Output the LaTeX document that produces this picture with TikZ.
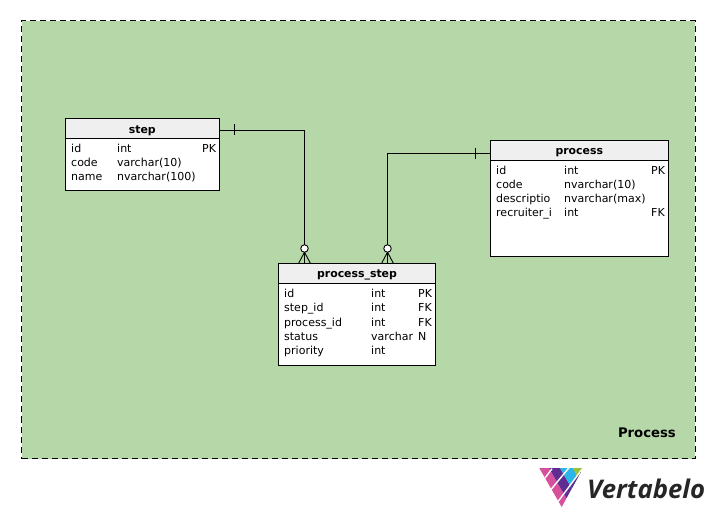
\documentclass[tikz,border=0pt]{standalone}
\usepackage{fontspec}
\setmainfont{DejaVu Sans}
\newfontfamily\logofont{Open Sans}
\usetikzlibrary{calc}
\definecolor{areagreen}{HTML}{B6D7A8}
\definecolor{headgray}{HTML}{EFEFEF}
\definecolor{lpink}{HTML}{D6509B}
\definecolor{lpurple}{HTML}{5F2D91}
\definecolor{lcyan}{HTML}{2BB5E8}
\definecolor{lgreen}{HTML}{97C23D}
\tikzset{x=1pt,y=-1pt,
  conn/.style={draw=black,line width=0.9pt},
  tbl/.style={draw=black,line width=1pt,fill=white,minimum width=#1,inner sep=0pt,outer sep=0pt,anchor=north west},
  headbox/.style={draw=black,line width=1pt,fill=headgray,inner sep=0pt,outer sep=0pt,anchor=north west,text height=9.9pt,text depth=1.5pt,font=\fontsize{10.9}{12}\selectfont\bfseries},
  cell/.style={anchor=base west,inner sep=0pt,font=\fontsize{11}{12}\selectfont},
  ring/.style={circle,draw=black,line width=0.9pt,fill=white,minimum size=7.5pt,inner sep=0pt,outer sep=0pt},
  whitecut/.style={draw=white,line width=1.4pt},
}
\begin{document}
\begin{tikzpicture}
\useasboundingbox (0,0) rectangle (714,518);
\fill[white] (0,0) rectangle (714,518);
\node[draw=black,line width=1pt,dash pattern=on 6pt off 4pt,fill=areagreen,minimum width=673.5pt,minimum height=437.5pt,inner sep=0pt,anchor=north west] (area) at (21,20.5) {};
\node[anchor=base east,inner sep=0pt,font=\fontsize{13.2}{14}\selectfont\bfseries] (arealabel) at (676,437) {Process};
% step
\node[tbl=153.5pt,minimum height=72pt] (stepb) at (65.5,119) {};
\node[headbox,minimum width=153.5pt,minimum height=20pt] (steph) at (65.5,119) {step};
\node[cell] (s1a) at (71,152.6) {id};\node[cell] (s1b) at (117,152.6) {int};\node[cell] (s1c) at (202,152.6) {PK};
\node[cell] (s2a) at (71,166.6) {code};\node[cell] (s2b) at (117,166.6) {varchar(10)};
\node[cell] (s3a) at (71,180.6) {name};\node[cell] (s3b) at (117,180.6) {nvarchar(100)};
% process
\node[tbl=177.5pt,minimum height=116pt] (procb) at (490.5,140.5) {};
\node[headbox,minimum width=177.5pt,minimum height=20.5pt] (proch) at (490.5,140.5) {process};
\node[cell] (p1a) at (496,175) {id};\node[cell] (p1b) at (564,175) {int};\node[cell] (p1c) at (651,175) {PK};
\node[cell] (p2a) at (496,189) {code};\node[cell] (p2b) at (564,189) {nvarchar(10)};
\node[cell] (p3a) at (496,203) {descriptio};\node[cell] (p3b) at (564,203) {nvarchar(max)};
\node[cell] (p4a) at (496,217) {recruiter\_i};\node[cell] (p4b) at (564,217) {int};\node[cell] (p4c) at (651,217) {FK};
% process_step
\node[tbl=157pt,minimum height=102pt] (psb) at (278.5,263.5) {};
\node[headbox,minimum width=157pt,minimum height=20pt] (psh) at (278.5,263.5) {process\_step};
\node[cell] (q1a) at (284,298) {id};\node[cell] (q1b) at (371,298) {int};\node[cell] (q1c) at (418,298) {PK};
\node[cell] (q2a) at (284,312) {step\_id};\node[cell] (q2b) at (371,312) {int};\node[cell] (q2c) at (418,312) {FK};
\node[cell] (q3a) at (284,326) {process\_id};\node[cell] (q3b) at (371,326) {int};\node[cell] (q3c) at (418,326) {FK};
\node[cell] (q4a) at (284,340) {status};\node[cell] (q4b) at (371,340) {varchar};\node[cell] (q4c) at (418,340) {N};
\node[cell] (q5a) at (284,354) {priority};\node[cell] (q5b) at (371,354) {int};
% rings
\node[ring] (r1) at (304.5,248.5) {};
\node[ring] (r2) at (387.5,248.5) {};
% connectors
\draw[conn] ($(steph.east)+(0,1)$) -| (r1.north);
\draw[conn] ($(proch.west)+(0,2.5)$) -| (r2.north);
\draw[conn] ($(steph.east)+(15,-4.5)$) -- ++(0,11);
\draw[conn] ($(proch.west)+(-15.5,-3)$) -- ++(0,11);
\foreach \r in {r1,r2}{
  \draw[conn] (\r.south) -- (\r.south |- psh.north);
  \draw[conn] (\r.south) -- ($(\r.south |- psh.north)+(-6,0)$);
  \draw[conn] (\r.south) -- ($(\r.south |- psh.north)+(6,0)$);
}
% logo mark
\begin{scope}
  \clip (539.3,468) -- (583,468) -- (561.7,507) -- cycle;
  \fill[lpink] (539,468) -- (549,468) -- (571.4,507) -- (561.4,507) -- cycle;
  \fill[lpurple] (549,468) -- (560,468) -- (582.4,507) -- (571.4,507) -- cycle;
  \fill[lcyan] (560,468) -- (573,468) -- (595.4,507) -- (582.4,507) -- cycle;
  \fill[lgreen] (573,468) -- (590,468) -- (590,507) -- cycle;
  \begin{scope}
    \clip (560,468) -- (590,468) -- (600,507) -- (582.4,507) -- cycle;
    \fill[lpurple] (557.7,502) -- (580,472) -- (590,480) -- (590,510) -- (555,510) -- cycle;
  \end{scope}
  \draw[whitecut] (544,479.3) -- (552,468.7);
  \draw[whitecut] (550,490.7) -- (569,467.7);
  \draw[whitecut] (557.7,502) -- (583,468);
\end{scope}
\node[anchor=base west,inner sep=0pt,font=\logofont\fontsize{25.7}{30}\selectfont\bfseries\itshape,text=black!85] (logo) at (587,498) {Vertabelo};
\end{tikzpicture}
\end{document}
